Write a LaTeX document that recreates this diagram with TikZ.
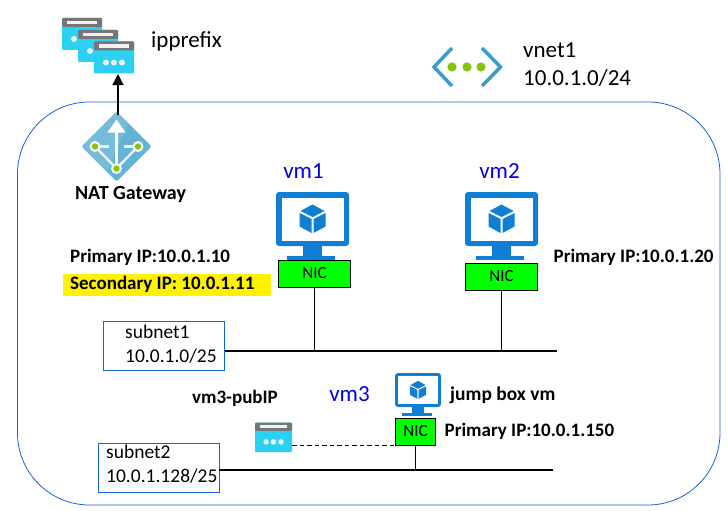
\documentclass[tikz,border=0pt]{standalone}
\usepackage{fontspec}
\setmainfont{Carlito}
\usetikzlibrary{positioning,calc,arrows.meta}
\tikzset{>=Triangle}
\definecolor{azblue}{HTML}{0F7FD6}
\definecolor{azcyan}{HTML}{2BD0F2}
\definecolor{azgray}{HTML}{767676}
\definecolor{azdiam}{HTML}{62B3D6}
\definecolor{azgreen}{HTML}{86C40E}
\definecolor{vnetblue}{HTML}{3C9CCB}
\definecolor{edgeblue}{HTML}{1166DD}
\tikzset{
  nicbox/.style={draw=black,line width=1pt,fill=green,inner sep=0pt,font=\fontsize{17}{17}\selectfont},
  subnetbox/.style={draw=edgeblue,line width=.9pt,fill=white,inner sep=0pt},
  sublabel/.style={font=\fontsize{19.5}{23.5}\selectfont,align=left,anchor=west,inner sep=0pt},
  bluelabel/.style={text=blue!90!black,font=\fontsize{23}{23}\selectfont},
  boldlabel/.style={font=\bfseries\fontsize{19}{19}\selectfont},
  plainlabel/.style={font=\fontsize{23}{28}\selectfont,inner sep=0pt},
  bus/.style={line width=1.2pt},
  % window of a public ip: origin at the top left corner, 40 by 32
  ipwin/.pic={
    \fill[azcyan,rounded corners=1pt] (0,0) rectangle (40,32);
    \fill[azgray,rounded corners=1pt] (0,0) rectangle (40,9);
    \fill[white!90!gray] (5,2.8) rectangle (35,6.2);
    \foreach \x in {12,20,28} \fill[white!90!cyan] (\x,21) circle[radius=3];
  },
  % screen with cube: origin at the top left corner, 73 by 68
  vmicon/.pic={
    \fill[azblue,rounded corners=3pt] (0,0) rectangle (73,54);
    \fill[white] (5.5,5.5) rectangle (67.5,48.5);
    \fill[azblue] (27,54) -- (46,54) -- (46,64) -- (27,64) -- cycle;
    \fill[azblue] (11,64) rectangle (59,68);
    \fill[azblue] (36.5,12.5) -- (48.5,19) -- (36.5,25) -- (24.5,19) -- cycle;
    \fill[azblue] (23.5,21) -- (35.5,27) -- (35.5,41) -- (23.5,34.5) -- cycle;
    \fill[azblue] (49.5,21) -- (37.5,27) -- (37.5,41) -- (49.5,34.5) -- cycle;
  },
}
\begin{document}
\begin{tikzpicture}[x=1pt,y=-1pt]
\useasboundingbox (0,0) rectangle (728,511);
\draw[edgeblue,line width=.8pt,rounded corners=72pt] (17.5,102) rectangle (720,505);

% prefix windows
\pic at (62,18) {ipwin};
\pic at (78,30) {ipwin};
\pic at (94,41.5) {ipwin};
\coordinate (prefixbot) at (118,74);
\node[anchor=west,plainlabel] (prefixlabel) at (151,41) {ipprefix};

% gateway
\coordinate (gw) at (116.5,146.5);
\fill[azdiam,rounded corners=2pt] (gw) ++(0,-35) -- ++(35,35) -- ++(-35,35) -- ++(-35,-35) -- cycle;
\fill[white,opacity=.12] (gw) ++(0,-34) -- ++(-34,34) -- ++(25,25) -- ++(25,-59) -- cycle;
\draw[white!88!gray,line width=2.4pt] ($(gw)+(-21.5,0)$) -- ($(gw)+(0,22)$) -- ($(gw)+(21.5,0)$);
\draw[white!88!gray,line width=2.4pt] ($(gw)+(-21.5,0)$) -- ++(14,0);
\draw[white!88!gray,line width=2.4pt] ($(gw)+(21.5,0)$) -- ++(-14,0);
\draw[white,line width=2.4pt] ($(gw)+(0,22)$) -- ($(gw)+(0,-15)$);
\fill[white] ($(gw)+(0,-27)$) -- ($(gw)+(9,-14)$) -- ($(gw)+(-9,-14)$) -- cycle;
\foreach \x/\y in {-21.5/0,21.5/0,0/22} {
  \fill[white] ($(gw)+(\x,\y)$) circle[radius=5.5];
  \fill[azgreen] ($(gw)+(\x,\y)$) circle[radius=3.2];
}
\coordinate (gwtop) at (118,115);
\draw[->,line width=1.2pt,>={Triangle[length=11pt,width=11pt]}] (gwtop) -- (prefixbot);
\node[boldlabel,font=\bfseries\fontsize{20}{20}\selectfont] (gwlabel) at (130.5,195) {NAT Gateway};

% vnet
\draw[vnetblue,line width=3.5pt] (452,48) -- (434,67) -- (452,86);
\draw[vnetblue,line width=3.5pt] (482,48) -- (500.5,67) -- (482,86);
\foreach \x in {452,467,481} \fill[azgreen] (\x,67) circle[radius=4.6];
\node[anchor=west,plainlabel,align=left] (vnetlabel) at (523,65) {vnet1\\10.0.1.0/24};

% vm1 and vm2
\node[bluelabel] (vmonelabel) at (303.5,171) {vm1};
\node[bluelabel] (vmtwolabel) at (499.5,171) {vm2};
\pic at (276,192) {vmicon};
\pic at (465,192) {vmicon};
\node[nicbox,minimum width=72pt,minimum height=27pt] (nicone) at (314.5,273.5) {NIC};
\node[nicbox,minimum width=72pt,minimum height=27pt] (nictwo) at (501.5,276.5) {NIC};

% vm3
\node[bluelabel] (vmthreelabel) at (349.5,394) {vm3};
\pic[scale=.63] at (395,373) {vmicon};
\node[nicbox,minimum width=40.5pt,minimum height=27pt] (nicthree) at (415.5,431.5) {NIC};
\pic[scale=.925] at (255,422.5) {ipwin};
\coordinate (pubip) at (292,445);
\draw[line width=1pt,dash pattern=on 4.5pt off 3pt] (pubip) -- (nicthree.west |- pubip);

% subnets
\node[subnetbox,minimum width=121pt,minimum height=49pt] (subone) at (164,345.5) {};
\node[sublabel] (subonelabel) at (125,344) {subnet1\\10.0.1.0/25};
\node[subnetbox,minimum width=121pt,minimum height=49pt] (subtwo) at (158.5,467.5) {};
\node[sublabel] (subtwolabel) at (106,464) {subnet2\\10.0.1.128/25};
\coordinate (busone) at (557,351);
\coordinate (bustwo) at (553,470);
\draw[bus] (subone.east |- busone) -- (busone);
\draw[bus] (subtwo.east |- bustwo) -- (bustwo);
\draw[bus] (nicone) -- (nicone |- busone);
\draw[bus] (nictwo) -- (nictwo |- busone);
\draw[bus] (nicthree) -- (nicthree |- bustwo);

% addresses
\fill[yellow] (63,274) rectangle (271,295.5);
\node[boldlabel,anchor=west,inner sep=0pt] (ipone) at (70,257) {Primary IP:10.0.1.10};
\node[boldlabel,anchor=west,inner sep=0pt] (ipsec) at (70,284.5) {Secondary IP: 10.0.1.11};
\node[boldlabel,anchor=west,inner sep=0pt] (iptwo) at (553.5,257) {Primary IP:10.0.1.20};
\node[boldlabel,anchor=west,inner sep=0pt,font=\bfseries\fontsize{19.5}{20}\selectfont] (jumplabel) at (450,395) {jump box vm};
\node[boldlabel,anchor=west,inner sep=0pt] (ipthree) at (444.5,431) {Primary IP:10.0.1.150};
\node[boldlabel] (publabel) at (235,398) {vm3-pubIP};
\end{tikzpicture}
\end{document}
